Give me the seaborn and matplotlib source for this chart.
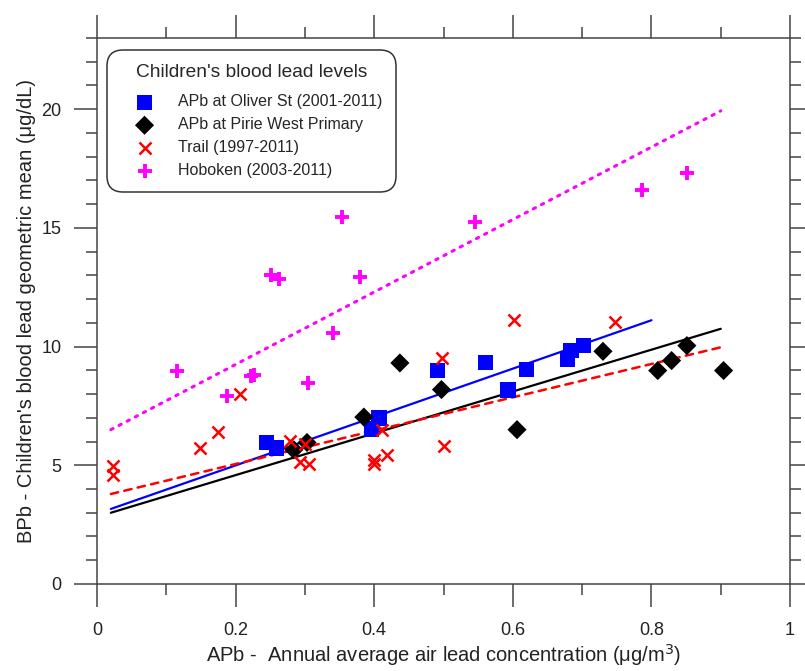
import pandas as pd
import seaborn as sns
import matplotlib.pyplot as plt
from matplotlib.ticker import MultipleLocator

# Children's blood lead vs air lead
oliver_x = [0.245, 0.259, 0.396, 0.407, 0.491, 0.561, 0.593, 0.620, 0.679, 0.684, 0.702]
oliver_y = [5.96, 5.73, 6.53, 6.99, 8.99, 9.32, 8.17, 9.02, 9.44, 9.84, 10.04]

pirie_x = [0.284, 0.303, 0.385, 0.437, 0.497, 0.606, 0.730, 0.809, 0.829, 0.851, 0.904]
pirie_y = [5.65, 5.96, 7.03, 9.31, 8.19, 6.50, 9.80, 8.99, 9.41, 10.04, 8.99]

trail_x = [0.023, 0.023, 0.148, 0.175, 0.206, 0.278, 0.293, 0.300, 0.306, 0.399,
           0.399, 0.411, 0.418, 0.498, 0.500, 0.601, 0.747]
trail_y = [4.95, 4.57, 5.72, 6.40, 8.02, 6.01, 5.12, 5.91, 5.05, 5.23,
           5.05, 6.50, 5.44, 9.52, 5.82, 11.11, 11.03]

hoboken_x = [0.116, 0.187, 0.222, 0.226, 0.251, 0.262, 0.304, 0.340, 0.353, 0.380,
             0.545, 0.787, 0.851]
hoboken_y = [8.96, 7.90, 8.75, 8.82, 13.00, 12.86, 8.47, 10.58, 15.46, 12.93,
             15.26, 16.58, 17.33]

# fitted trend lines (start / end points)
fit_names = ['oliver', 'pirie', 'trail', 'hoboken']
fit_x0 = [0.02, 0.02, 0.02, 0.02]
fit_x1 = [0.80, 0.90, 0.90, 0.90]
fit_y0 = [3.16, 3.00, 3.79, 6.50]
fit_y1 = [11.11, 10.75, 9.97, 19.93]

labels = {
    'oliver': 'APb at Oliver St (2001-2011)',
    'pirie': 'APb at Pirie West Primary',
    'trail': 'Trail (1997-2011)',
    'hoboken': 'Hoboken (2003-2011)',
}

sns.set_theme(style="ticks")
plt.rcParams['font.family'] = ['Liberation Sans', 'DejaVu Sans']

fig = plt.figure(figsize=(8.05, 6.71), dpi=100)
ax = fig.add_axes([0.1205, 0.1297, 0.861, 0.8137])

frame = '#444444'

# trend lines
fits = pd.DataFrame({
    'name': fit_names * 2,
    'x': fit_x0 + fit_x1,
    'y': fit_y0 + fit_y1,
})
line_styles = {
    'oliver': dict(color='#0000ff', lw=1.6, ls='-'),
    'pirie': dict(color='black', lw=1.6, ls='-'),
    'trail': dict(color='#ff0000', lw=1.8, ls=(0, (3, 2.5))),
    'hoboken': dict(color='#ff00ff', lw=2.2, ls=(0, (0.8, 2.2))),
}
for name in fit_names:
    st = line_styles[name]
    sns.lineplot(data=fits[fits['name'] == name], x='x', y='y', ax=ax,
                 color=st['color'], linewidth=st['lw'], linestyle=st['ls'],
                 dash_capstyle='round', legend=False)

# scatter points
sns.scatterplot(x=oliver_x, y=oliver_y, ax=ax, marker='s', s=120, color='#0000ff',
                edgecolor='none', label=labels['oliver'], zorder=3)
sns.scatterplot(x=pirie_x, y=pirie_y, ax=ax, marker='D', s=95, color='black',
                edgecolor='none', label=labels['pirie'], zorder=3)
sns.scatterplot(x=trail_x, y=trail_y, ax=ax, marker='x', s=75, color='#ff0000',
                linewidth=1.8, label=labels['trail'], zorder=3)
sns.scatterplot(x=hoboken_x, y=hoboken_y, ax=ax, marker='+', s=95, color='#ff00ff',
                linewidth=2.8, label=labels['hoboken'], zorder=3)

ax.set_xlim(0, 1)
ax.set_ylim(0, 23)

ax.xaxis.set_major_locator(MultipleLocator(0.2))
ax.xaxis.set_minor_locator(MultipleLocator(0.1))
ax.yaxis.set_major_locator(MultipleLocator(5))
ax.yaxis.set_minor_locator(MultipleLocator(1))
ax.set_xticks([0, 0.2, 0.4, 0.6, 0.8, 1.0])
ax.set_xticklabels(['0', '0.2', '0.4', '0.6', '0.8', '1'])

ax.tick_params(which='both', direction='out', top=True, right=True,
               color=frame, width=1.1)
ax.tick_params(which='major', length=16.5, labelsize=13, pad=9, labelcolor='#222222')
ax.tick_params(axis='x', which='major', pad=11)
ax.tick_params(which='minor', length=8)
for sp in ax.spines.values():
    sp.set_color(frame)
    sp.set_linewidth(1.1)

ax.set_xlabel("APb -  Annual average air lead concentration (μg/m$^{3}$)",
              fontsize=14.5, color='#222222', labelpad=2)
ax.set_ylabel("BPb - Children's blood lead geometric mean (μg/dL)",
              fontsize=14.5, color='#222222', labelpad=4)

leg = ax.legend(loc='upper left', bbox_to_anchor=(0.0144, 0.978),
                title="Children's blood lead levels", alignment='center',
                fontsize=11.5, title_fontsize=13.8, frameon=True, fancybox=True,
                edgecolor='#333333', framealpha=1, borderpad=0.85,
                labelspacing=0.5, handlelength=3.0, handletextpad=0.6,
                borderaxespad=0)
leg._legend_box.sep = 10
leg.get_frame().set_linewidth(1.1)
leg.get_frame().set_boxstyle('round', pad=0, rounding_size=1.0)

fig.savefig('out.png', dpi=100)
plt.close(fig)
